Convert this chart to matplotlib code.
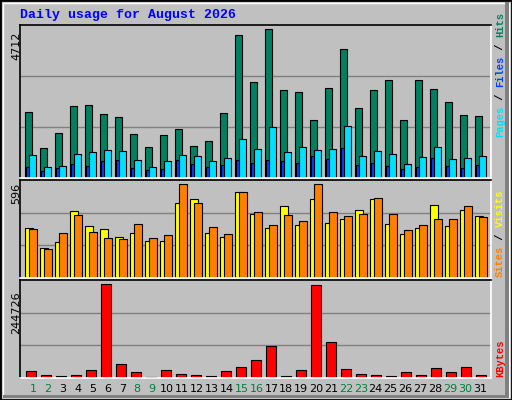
import matplotlib
matplotlib.use("Agg")
import matplotlib.pyplot as plt
import numpy as np
from matplotlib.patches import Rectangle

days = list(range(1, 32))
weekend = [1, 2, 8, 9, 15, 16, 22, 23, 29, 30]
hits = [2090, 938, 1418, 2281, 2313, 2025, 1930, 1386, 970, 1354, 1546, 1002, 1162, 2057, 4520, 3049, 4712, 2793, 2729, 1834, 2857, 4072, 2217, 2793, 3113, 1834, 3113, 2825, 2409, 1993, 1961]
files = [714, 362, 394, 746, 810, 874, 842, 554, 362, 522, 714, 682, 522, 618, 1226, 906, 1610, 810, 970, 874, 906, 1642, 682, 842, 746, 458, 650, 970, 586, 618, 682]
pages = [362, 235, 330, 458, 394, 522, 554, 330, 266, 298, 554, 458, 362, 426, 554, 490, 554, 522, 490, 682, 586, 938, 426, 490, 394, 298, 362, 618, 394, 330, 426]
sites = [318, 189, 228, 422, 331, 312, 260, 286, 234, 234, 473, 499, 286, 260, 546, 404, 318, 454, 336, 499, 349, 374, 433, 499, 342, 280, 318, 462, 331, 433, 389]
visits = [312, 183, 286, 396, 292, 254, 247, 344, 254, 273, 596, 473, 325, 280, 546, 417, 336, 396, 363, 596, 417, 391, 404, 505, 404, 305, 336, 370, 370, 454, 383]
kbytes = [17000, 8900, 6200, 8900, 19600, 244726, 35700, 14300, 3600, 19600, 11600, 8900, 6200, 17000, 27700, 46400, 83900, 6200, 19600, 242000, 94600, 22300, 11600, 8900, 6200, 14300, 8900, 25000, 14300, 27700, 8900]

BG = "#C0C0C0"
fig = plt.figure(figsize=(5.12, 4.0), dpi=100, facecolor=BG)
fig.patches.append(Rectangle((0, 0), 1, 1, transform=fig.transFigure, fill=False, edgecolor="black", lw=2))
fig.patches.append(Rectangle((0.006, 0.008), 0.988, 0.985, transform=fig.transFigure, fill=False, edgecolor="white", lw=1))
fig.patches.append(Rectangle((0.006, 0.004), 0.988, 0.008, transform=fig.transFigure, color="#808080", lw=0))
fig.patches.append(Rectangle((0.986, 0.004), 0.008, 0.99, transform=fig.transFigure, color="#808080", lw=0))

W, H = 512, 400
SLOT = 15.0
def ax_at(x0, y0, x1, y1):
    a = fig.add_axes([x0 / W, 1 - y1 / H, (x1 - x0) / W, (y1 - y0) / H])
    a.set_facecolor(BG)
    a.set_xlim(0.5, 0.5 + (x1 - x0) / SLOT)
    a.set_xticks([]); a.set_yticks([])
    for s in ["top", "left"]:
        a.spines[s].set_color("black")
    for s in ["bottom", "right"]:
        a.spines[s].set_color("white")
    for sp in a.spines.values():
        sp.set_linewidth(1.2)
    return a

mono = ["Liberation Mono", "DejaVu Sans Mono"]
fig.text(20 / W, 1 - 15 / H, "Daily usage for August 2026", color="#0000FF", fontsize=9.5,
         fontweight="bold", family=mono, va="center", ha="left")

d = np.array(days)
kw = dict(edgecolor="black", linewidth=0.8, align="edge")

a1 = ax_at(20, 25, 491, 178)
top = max(hits) * 152 / 148
a1.set_ylim(0, top)
for g in (top / 3, 2 * top / 3):
    a1.axhline(g, color="#808080", lw=1, zorder=0)
a1.bar(d - 0.15, hits, 0.48, color="#008060", **kw)
a1.bar(d - 0.08, pages, 0.3, color="#0040FF", **kw)
a1.bar(d + 0.1, files, 0.48, color="#00E0FF", **kw)
fig.text(16 / W, 1 - 46 / H, str(max(hits)), rotation=90, fontsize=8, ha="center", va="center")

a2 = ax_at(20, 180, 491, 278)
topm = max(visits) * 288 / 277
a2.set_ylim(0, topm)
for g in (topm / 3, 2 * topm / 3):
    a2.axhline(g, color="#808080", lw=1, zorder=0)
a2.bar(d - 0.15, sites, 0.5, color="#FFFF00", **kw)
a2.bar(d + 0.1, visits, 0.5, color="#FF8000", **kw)
fig.text(16 / W, 1 - 193 / H, str(max(visits)), rotation=90, fontsize=8, ha="center", va="center")

a3 = ax_at(20, 280, 491, 378)
topb = max(kbytes) * 285 / 274
a3.set_ylim(0, topb)
for g in (topb / 3, 2 * topb / 3):
    a3.axhline(g, color="#808080", lw=1, zorder=0)
a3.bar(d - 0.1, kbytes, 0.68, color="#FF0000", **kw)
fig.text(16 / W, 1 - 313 / H, str(max(kbytes)), rotation=90, fontsize=8, ha="center", va="center")

for day in days:
    x = 33 + (day - 1) * 14.9
    fig.text(x / W, 1 - 389 / H, str(day), fontsize=8, ha="center", va="center",
             color="#008040" if day in weekend else "black")

FS = 7.5
CW = 0.6 * FS * 100 / 72
def stack(x, ybottom, parts):
    y = ybottom
    for txt, col in parts:
        fig.text(x / W, 1 - y / H, txt, rotation=90, color=col, fontsize=FS,
                 fontweight="bold", family=mono, ha="center", va="bottom")
        y -= len(txt) * CW

stack(500, 137, [("Pages", "#00E0FF"), (" / ", "#000000"), ("Files", "#0040FF"), (" / ", "#000000"), ("Hits", "#008060")])
stack(500, 277, [("Sites", "#FF8000"), (" / ", "#000000"), ("Visits", "#FFFF00")])
stack(500, 377, [("KBytes", "#FF0000")])

fig.savefig("out.png", dpi=100, facecolor=BG)
